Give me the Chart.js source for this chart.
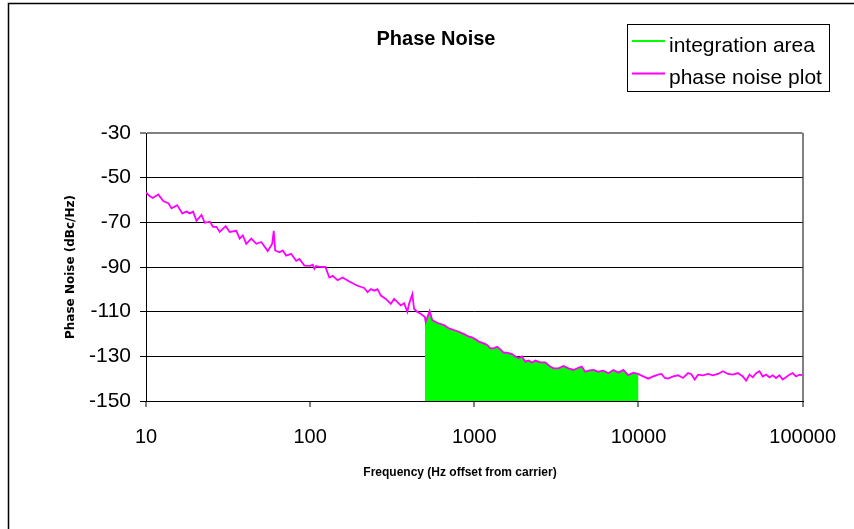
<!DOCTYPE html>
<html>
<head>
<meta charset="utf-8">
<script src="https://cdn.jsdelivr.net/npm/chart.js@4.4.0/dist/chart.umd.min.js"></script>
<style>
html,body{margin:0;padding:0;background:#fff;}
#wrap{position:relative;width:854px;height:529px;overflow:hidden;}
</style>
</head>
<body>
<div id="wrap"><canvas id="c" width="854" height="529"></canvas></div>
<script>
// ---- data ----
const chartTitle = 'Phase Noise';
const xTitle = 'Frequency (Hz offset from carrier)';
const yTitle = 'Phase Noise (dBc/Hz)';
const seriesNames = ['integration area', 'phase noise plot'];

const frequencies = [
  10, 10.47, 10.98, 11.88, 12.73, 13.66, 14.32, 15.49, 16.61, 17.66,
  18.49, 19.36, 20.31, 21.78, 22.8, 24.46, 25.62, 26.85, 28.12, 30.6,
  32.36, 35.5, 37.2, 38.9, 40.8, 43.8, 47, 50.4, 55.2, 58.7,
  60, 61.2, 65, 68.1, 71.4, 76.6, 82.2, 86, 92.2,
  100, 103.6, 106.1, 108.7, 113.8, 123.8,
  130.9, 137.1, 146.9, 157.6, 173.1, 194.4, 213.5, 223.6, 234.4, 245.5,
  257, 269.6, 289.1, 309.9, 324.7, 340, 356.5, 373.4, 391, 400.4,
  419.3, 429.4, 449.7, 471.5, 500, 505.5, 534.6, 554.4, 581.3, 608.7,
  653, 700, 750.8, 805,
  843.3, 884.3, 926, 969.6, 1017, 1065, 1142, 1196, 1254, 1313,
  1375, 1442, 1510, 1582, 1696, 1779, 1863, 1951, 2045, 2142,
  2243, 2352, 2522, 2705, 2901, 3038, 3258, 3493, 3746, 4017,
  4308, 4511, 4731, 4955, 5313, 5698, 6109, 6553, 7026, 7535,
  8080, 8666, 9292, 10000,
  10686, 11460, 12288, 13181, 13802, 14475, 15155, 16252, 17431, 18688,
  20045, 20989, 22008, 23052, 24717, 26509, 28426, 30487, 32689, 35060,
  37594, 40322, 43235, 45273, 47483, 49719, 52066, 54596, 57167, 59860,
  62784, 65740, 68865, 72217, 75620, 79192, 83050, 86960, 91080, 95500,
  100000
];

const phaseNoise = [
  -56.6, -58.1, -59.1, -57.5, -60.5, -61.4, -63.7, -62.3, -66.0, -65.2,
  -66.0, -65.2, -69.3, -66.7, -70.2, -69.7, -72.0, -72.0, -74.3, -71.7,
  -74.3, -73.8, -77.3, -75.8, -79.6, -77.3, -79.6, -78.8, -82.9, -79.6,
  -73.8, -82.6, -83.4, -82.6, -84.9, -84.1, -87.2, -86.4, -89.4,
  -89.5, -89.0, -90.8, -89.6, -89.9, -90.0,
  -94.7, -94.0, -95.9, -94.7, -96.5, -98.4, -99.4, -101.3, -99.9, -100.6,
  -99.9, -102.8, -104.3, -106.5, -104.3, -105.7, -107.2, -106.2, -110.1, -106.5,
  -102.1, -108.7, -110.1, -110.9, -112.4, -114.6, -109.7, -113.8, -114.6, -115.3,
  -116.0, -117.5, -118.2, -119.0,
  -119.7, -120.4, -121.2, -121.5, -122.4, -123.4, -124.2, -124.9, -126.4, -126.4,
  -125.7, -126.9, -128.4, -128.4, -129.0, -130.1, -130.9, -130.1, -132.4, -131.9,
  -132.8, -131.9, -132.7, -132.7, -134.6, -135.4, -135.4, -134.3, -135.4, -136.1,
  -135.1, -134.6, -136.9, -136.4, -136.1, -136.9, -136.4, -137.6, -136.1, -137.3,
  -136.1, -138.4, -137.3, -138.0,
  -139.0, -140.0, -139.0, -138.2, -137.9, -139.7, -140.0, -139.0, -138.5, -139.7,
  -137.5, -138.0, -140.4, -138.2, -138.5, -137.9, -138.5, -137.9, -136.7, -137.9,
  -138.2, -137.5, -139.0, -140.9, -138.2, -139.4, -137.5, -136.7, -139.0, -138.2,
  -139.4, -138.5, -139.7, -138.5, -140.4, -139.4, -138.2, -137.5, -139.0, -138.2,
  -138.5
];

const integrationStart = 500;
const integrationEnd = 10000;

const xTickValues = [10, 100, 1000, 10000, 100000];
const xTickLabels = ['10', '100', '1000', '10000', '100000'];
const yTickValues = [-150, -130, -110, -90, -70, -50, -30];
const yMin = -150, yMax = -30;

// ---- build datasets ----
const n = Math.min(frequencies.length, phaseNoise.length);
const noisePoints = [];
for (let i = 0; i < n; i++) noisePoints.push({x: frequencies[i], y: phaseNoise[i]});
const areaPoints = noisePoints.filter(p => p.x >= integrationStart && p.x <= integrationEnd);

const FONT = '"Liberation Sans", Arial, Helvetica, sans-serif';

const decor = {
  id: 'decor',
  afterDraw(chart) {
    const ctx = chart.ctx;
    ctx.save();
    // outer frame
    ctx.strokeStyle = '#000';
    ctx.lineWidth = 1.5;
    ctx.beginPath();
    ctx.moveTo(8.5, 529);
    ctx.lineTo(8.5, 3.5);
    ctx.lineTo(854, 3.5);
    ctx.stroke();
    // title
    ctx.fillStyle = '#000';
    ctx.textAlign = 'center';
    ctx.textBaseline = 'alphabetic';
    ctx.font = 'bold 20px ' + FONT;
    ctx.fillText(chartTitle, 436, 45);
    // x axis title
    ctx.font = 'bold 12px ' + FONT;
    ctx.fillText(xTitle, 460, 476);
    // legend box
    ctx.lineWidth = 1;
    ctx.strokeStyle = '#000';
    ctx.strokeRect(627.5, 24.5, 202, 67);
    const rows = [41, 73.5];
    const bases = [51.5, 84];
    chart.data.datasets.forEach((ds, i) => {
      ctx.strokeStyle = ds.borderColor;
      ctx.lineWidth = 2;
      ctx.beginPath();
      ctx.moveTo(632, rows[i]);
      ctx.lineTo(665, rows[i]);
      ctx.stroke();
      ctx.fillStyle = '#000';
      ctx.font = '21px ' + FONT;
      ctx.textAlign = 'left';
      ctx.fillText(ds.label, 669, bases[i]);
    });
    ctx.restore();
  }
};

new Chart(document.getElementById('c'), {
  type: 'line',
  data: {
    datasets: [
      {
        label: seriesNames[0],
        data: areaPoints,
        borderColor: '#00FF00',
        backgroundColor: '#00FF00',
        borderWidth: 1,
        fill: 'start',
        pointRadius: 0,
        tension: 0,
        order: 2
      },
      {
        label: seriesNames[1],
        data: noisePoints,
        borderColor: '#FF00FF',
        backgroundColor: '#FF00FF',
        borderWidth: 1.8,
        fill: false,
        pointRadius: 0,
        tension: 0,
        order: 1
      }
    ]
  },
  options: {
    responsive: false,
    animation: false,
    devicePixelRatio: 1,
    parsing: false,
    layout: {padding: {top: 133, right: 49, bottom: 0, left: 0}},
    plugins: {
      legend: {display: false},
      title: {display: false},
      tooltip: {enabled: false}
    },
    scales: {
      x: {
        type: 'logarithmic',
        min: xTickValues[0],
        max: xTickValues[xTickValues.length - 1],
        afterBuildTicks: s => { s.ticks = xTickValues.map(v => ({value: v})); },
        afterFit: s => { s.height = 128; },
        ticks: {
          autoSkip: false,
          maxRotation: 0,
          color: '#000',
          padding: 18,
          font: {family: FONT, size: 20},
          callback: v => { const k = xTickValues.indexOf(v); return k >= 0 ? xTickLabels[k] : ''; }
        },
        grid: {
          color: c => (c.tick && c.tick.value === xTickValues[xTickValues.length - 1]) ? '#808080' : 'rgba(0,0,0,0)',
          lineWidth: 2,
          tickColor: '#000',
          tickLength: 6,
          tickWidth: 1
        },
        border: {color: '#000', width: 1}
      },
      y: {
        type: 'linear',
        min: yMin,
        max: yMax,
        afterBuildTicks: s => { s.ticks = yTickValues.map(v => ({value: v})); },
        afterFit: s => { s.width = 146; },
        ticks: {
          color: '#000',
          padding: 9,
          font: {family: FONT, size: 21}
        },
        grid: {
          color: c => (c.tick && c.tick.value === yMax) ? '#808080' : '#000',
          lineWidth: c => (c.tick && c.tick.value === yMax) ? 2 : 1,
          tickColor: '#000',
          tickLength: 6,
          tickWidth: 1
        },
        border: {color: '#000', width: 1},
        title: {
          display: true,
          text: yTitle,
          color: '#000',
          font: {family: '"DejaVu Sans", Verdana, sans-serif', size: 12, weight: 'bold'},
          padding: {top: 64, bottom: 0}
        }
      }
    }
  },
  plugins: [decor]
});
</script>
</body>
</html>
